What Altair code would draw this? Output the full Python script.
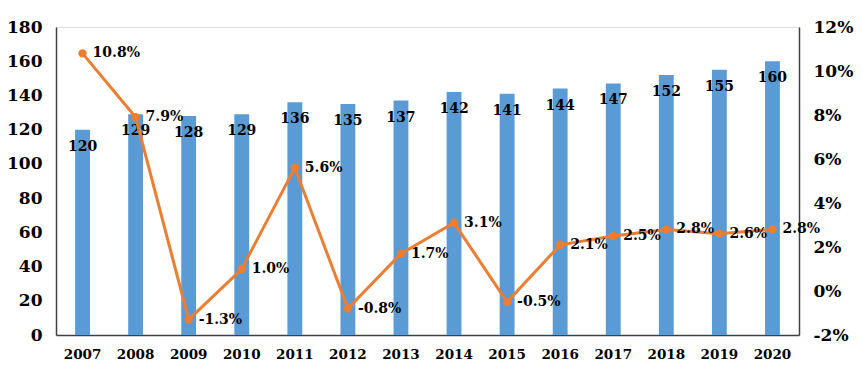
import altair as alt
import pandas as pd

years = ["2007", "2008", "2009", "2010", "2011", "2012", "2013",
         "2014", "2015", "2016", "2017", "2018", "2019", "2020"]
values = [120, 129, 128, 129, 136, 135, 137, 142, 141, 144, 147, 152, 155, 160]
growth = [10.8, 7.9, -1.3, 1.0, 5.6, -0.8, 1.7, 3.1, -0.5, 2.1, 2.5, 2.8, 2.6, 2.8]
left_ticks = [0, 20, 40, 60, 80, 100, 120, 140, 160, 180]
right_ticks = [-2, 0, 2, 4, 6, 8, 10, 12]

df = pd.DataFrame({"year": years, "value": values, "growth": growth})
df["glabel"] = [f"{g:.1f}%" for g in growth]

FONT = "DejaVu Serif"
BLUE = "#5B9BD5"
ORANGE = "#ED7D31"
AX = "#404040"

x = alt.X("year:N", sort=years,
          scale=alt.Scale(paddingInner=0.72, paddingOuter=0.36),
          axis=alt.Axis(title=None, labelAngle=0, ticks=False, labelPadding=12,
                        labelFont=FONT, labelFontSize=13.5, labelFontWeight="bold",
                        labelColor="black", domainColor=AX, domainWidth=1.5,
                        labelOverlap=False))

yl = alt.Y("value:Q", scale=alt.Scale(domain=[0, 180], nice=False, zero=True),
           axis=alt.Axis(title=None, values=left_ticks, grid=False, ticks=False,
                         labelPadding=14, labelFont=FONT, labelFontSize=17,
                         labelFontWeight="bold", labelColor="black",
                         labelOverlap=False, labelFlush=False,
                         domainColor=AX, domainWidth=1.5, orient="left"))

yr = alt.Y("growth:Q", scale=alt.Scale(domain=[-2, 12], nice=False, zero=False),
           axis=alt.Axis(title=None, values=right_ticks, grid=False, ticks=False,
                         labelPadding=14, labelFont=FONT, labelFontSize=17,
                         labelFontWeight="bold", labelColor="black",
                         labelOverlap=False, labelFlush=False,
                         labelExpr="datum.value + '%'",
                         domainColor=AX, domainWidth=1.5, orient="right"))

base = alt.Chart(df)

bars = base.mark_bar(color=BLUE).encode(x=x, y=yl)
bar_text = base.mark_text(font=FONT, fontSize=14, fontWeight="bold", color="black",
                          baseline="middle", dy=17).encode(
    x=x, y=yl, text="value:Q")

left = alt.layer(bars, bar_text)

line = base.mark_line(color=ORANGE, strokeWidth=3).encode(x=x, y=yr)
pts = base.mark_point(color=ORANGE, filled=True, size=70, opacity=1).encode(x=x, y=yr)
line_text = base.mark_text(font=FONT, fontSize=14, fontWeight="bold", color="black",
                           align="left", baseline="middle", dx=10).encode(
    x=x, y=yr, text="glabel:N")

right = alt.layer(line, pts, line_text)

chart = alt.layer(left, right).resolve_scale(y="independent").properties(
    width=743, height=308,
    autosize=alt.AutoSizeParams(type="none"),
    padding={"left": 48, "top": 19, "right": 55, "bottom": 27},
).configure_view(stroke=None).configure(background="white")

chart.save("out.html", embed_options={"renderer": "svg", "actions": False})
